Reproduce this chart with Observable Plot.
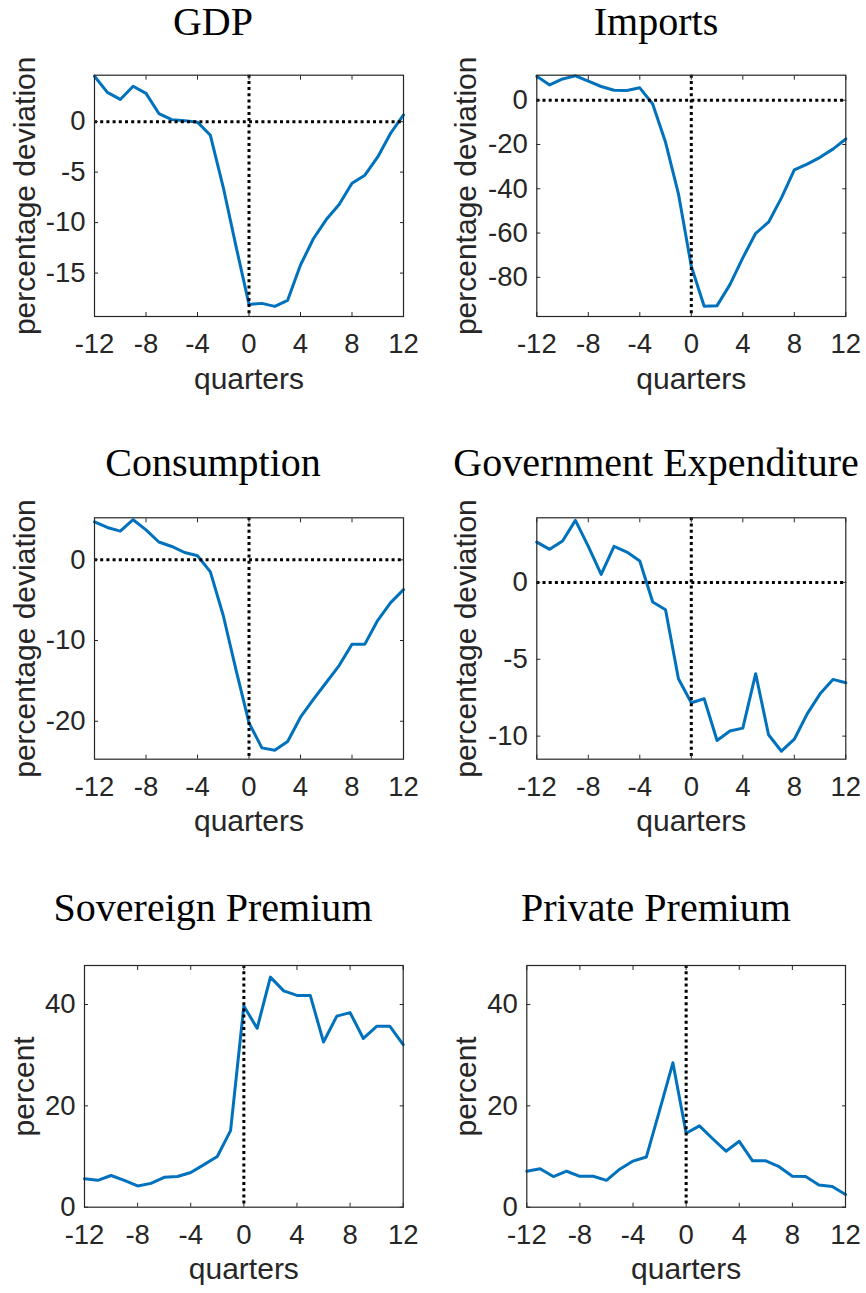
<!DOCTYPE html>
<html>
<head>
<meta charset="utf-8">
<script src="https://cdn.jsdelivr.net/npm/d3@7"></script>
<script src="https://cdn.jsdelivr.net/npm/@observablehq/plot@0.6"></script>
<style>
  body { margin: 0; background: #fff; }
  #root { position: relative; width: 866px; height: 1293px; overflow: hidden; background: #fff; }
  .panel { position: absolute; }
  .title { position: absolute; width: 500px; text-align: center; white-space: nowrap;
           font-family: "Liberation Serif", serif; font-size: 40px; line-height: 40px; color: #000; }
</style>
</head>
<body>
<div id="root"></div>
<script>
// ---- data ----
const quarters = [-12, -11, -10, -9, -8, -7, -6, -5, -4, -3, -2, -1, 0, 1, 2, 3, 4, 5, 6, 7, 8, 9, 10, 11, 12];
const xTicks = [-12, -8, -4, 0, 4, 8, 12];

const gdp = [4.5, 2.9, 2.2, 3.5, 2.8, 0.8, 0.2, 0.1, -0.05, -1.35, -6.5, -12.4, -18.1, -18.0, -18.3, -17.7, -14.2, -11.6, -9.7, -8.2, -6.1, -5.3, -3.5, -1.15, 0.66];
const imports = [10.8, 6.9, 9.6, 11.0, 8.6, 6.2, 4.5, 4.4, 5.6, -1.7, -19, -42.3, -75, -93.1, -92.8, -83.3, -71.2, -60.1, -55.1, -44.1, -31.5, -28.9, -25.8, -22.1, -17.5];
const consumption = [4.7, 4.0, 3.55, 4.96, 3.7, 2.2, 1.65, 0.9, 0.5, -1.5, -6.9, -13.7, -20.2, -23.3, -23.6, -22.5, -19.5, -17.3, -15.2, -13.1, -10.45, -10.45, -7.5, -5.3, -3.7];
const govExp = [2.62, 2.15, 2.69, 4.03, 2.34, 0.52, 2.34, 1.97, 1.39, -1.28, -1.78, -6.27, -7.83, -7.57, -10.28, -9.67, -9.48, -5.94, -9.91, -10.98, -10.2, -8.55, -7.25, -6.31, -6.53];
const sovPremium = [5.6, 5.3, 6.25, 5.3, 4.2, 4.7, 5.9, 6.05, 6.85, 8.4, 10.0, 15.1, 39.7, 35.3, 45.4, 42.7, 41.8, 41.8, 32.6, 37.7, 38.4, 33.3, 35.7, 35.7, 32.1];
const privPremium = [7.1, 7.6, 6.05, 7.1, 6.1, 6.1, 5.3, 7.5, 9.1, 9.9, 19.1, 28.5, 14.6, 16.05, 13.5, 11.05, 13.0, 9.15, 9.15, 8.0, 6.1, 6.05, 4.4, 4.1, 2.5];

const titles = ["GDP", "Imports", "Consumption", "Government Expenditure", "Sovereign Premium", "Private Premium"];
const yLabels = ["percentage deviation", "percentage deviation", "percentage deviation", "percentage deviation", "percent", "percent"];
const yTicks = [[-15, -10, -5, 0], [-80, -60, -40, -20, 0], [-20, -10, 0], [-10, -5, 0], [0, 20, 40], [0, 20, 40]];
const yDomains = [[-19.3, 4.6], [-97.7, 11.3], [-24.7, 5.2], [-11.5, 4.2], [0, 47.7], [0, 47.7]];
const series = [gdp, imports, consumption, govExp, sovPremium, privPremium];

// ---- layout (positions / styles) ----
const layout = [
  {left: 0,   top: 40,  h: 360, mt: 34.7, mb: 84,   ml: 94,    mr: 30,   lo: 81,   tx: 213, tb: 35,    zeroH: true},
  {left: 433, top: 40,  h: 360, mt: 34.7, mb: 84,   ml: 103.3, mr: 20.7, lo: 82.6, tx: 656, tb: 35,    zeroH: true},
  {left: 0,   top: 480, h: 360, mt: 37.3, mb: 81.3, ml: 94,    mr: 30,   lo: 81,   tx: 213, tb: 476.7, zeroH: true},
  {left: 433, top: 480, h: 360, mt: 37.3, mb: 81.3, ml: 103.3, mr: 20.7, lo: 82.6, tx: 656, tb: 476.7, zeroH: true},
  {left: 0,   top: 930, h: 363, mt: 35,   mb: 86.3, ml: 84,    mr: 30.3, lo: 72,   tx: 213, tb: 921.7, zeroH: false},
  {left: 433, top: 930, h: 363, mt: 35,   mb: 86.3, ml: 93.3,  mr: 21,   lo: 72.6, tx: 656, tb: 921.7, zeroH: false}
];

const root = document.getElementById("root");
const dotted = {stroke: "#000", strokeWidth: 3, strokeDasharray: "3,3.2"};
const tickFont = 27.5, labelFont = 30;

series.forEach((vals, i) => {
  const L = layout[i];
  const data = quarters.map((q, j) => ({q, v: vals[j]}));
  const marks = [
    Plot.line(data, {x: "q", y: "v", stroke: "#0072BD", strokeWidth: 3})
  ];
  if (L.zeroH) marks.push(Plot.ruleY([0], dotted));
  marks.push(Plot.ruleX([0], dotted));
  marks.push(Plot.frame({stroke: "#262626", strokeWidth: 1.2}));
  // tick marks + tick labels
  marks.push(Plot.axisX(xTicks, {anchor: "bottom", tickSize: -4, tickPadding: 21, fontSize: tickFont, label: null, tickFormat: d => String(d)}));
  marks.push(Plot.axisX(xTicks, {anchor: "top", tickSize: -4, label: null, tickFormat: () => ""}));
  marks.push(Plot.axisY(yTicks[i], {anchor: "left", tickSize: -4, tickPadding: 13, fontSize: tickFont, label: null, tickFormat: d => String(d)}));
  marks.push(Plot.axisY(yTicks[i], {anchor: "right", tickSize: -4, label: null, tickFormat: () => ""}));
  // axis titles
  marks.push(Plot.axisX([], {anchor: "bottom", tickSize: 0, fontSize: labelFont, label: "quarters", labelAnchor: "center", labelOffset: 72, labelArrow: "none"}));
  marks.push(Plot.axisY([], {anchor: "left", tickSize: 0, fontSize: labelFont, label: yLabels[i], labelAnchor: "center", labelOffset: L.lo, labelArrow: "none"}));

  const svg = Plot.plot({
    width: 433,
    height: L.h,
    marginTop: L.mt, marginBottom: L.mb, marginLeft: L.ml, marginRight: L.mr,
    x: {domain: [-12, 12]},
    y: {domain: yDomains[i]},
    style: {fontFamily: "'Liberation Sans', Arial, sans-serif", color: "#262626", background: "transparent", overflow: "visible"},
    marks
  });
  const wrap = document.createElement("div");
  wrap.className = "panel";
  wrap.style.left = L.left + "px";
  wrap.style.top = L.top + "px";
  wrap.appendChild(svg);
  root.appendChild(wrap);

  const t = document.createElement("div");
  t.className = "title";
  t.textContent = titles[i];
  t.style.left = (L.tx - 250) + "px";
  t.style.top = (L.tb - 33.5) + "px";
  root.appendChild(t);
});
</script>
</body>
</html>
